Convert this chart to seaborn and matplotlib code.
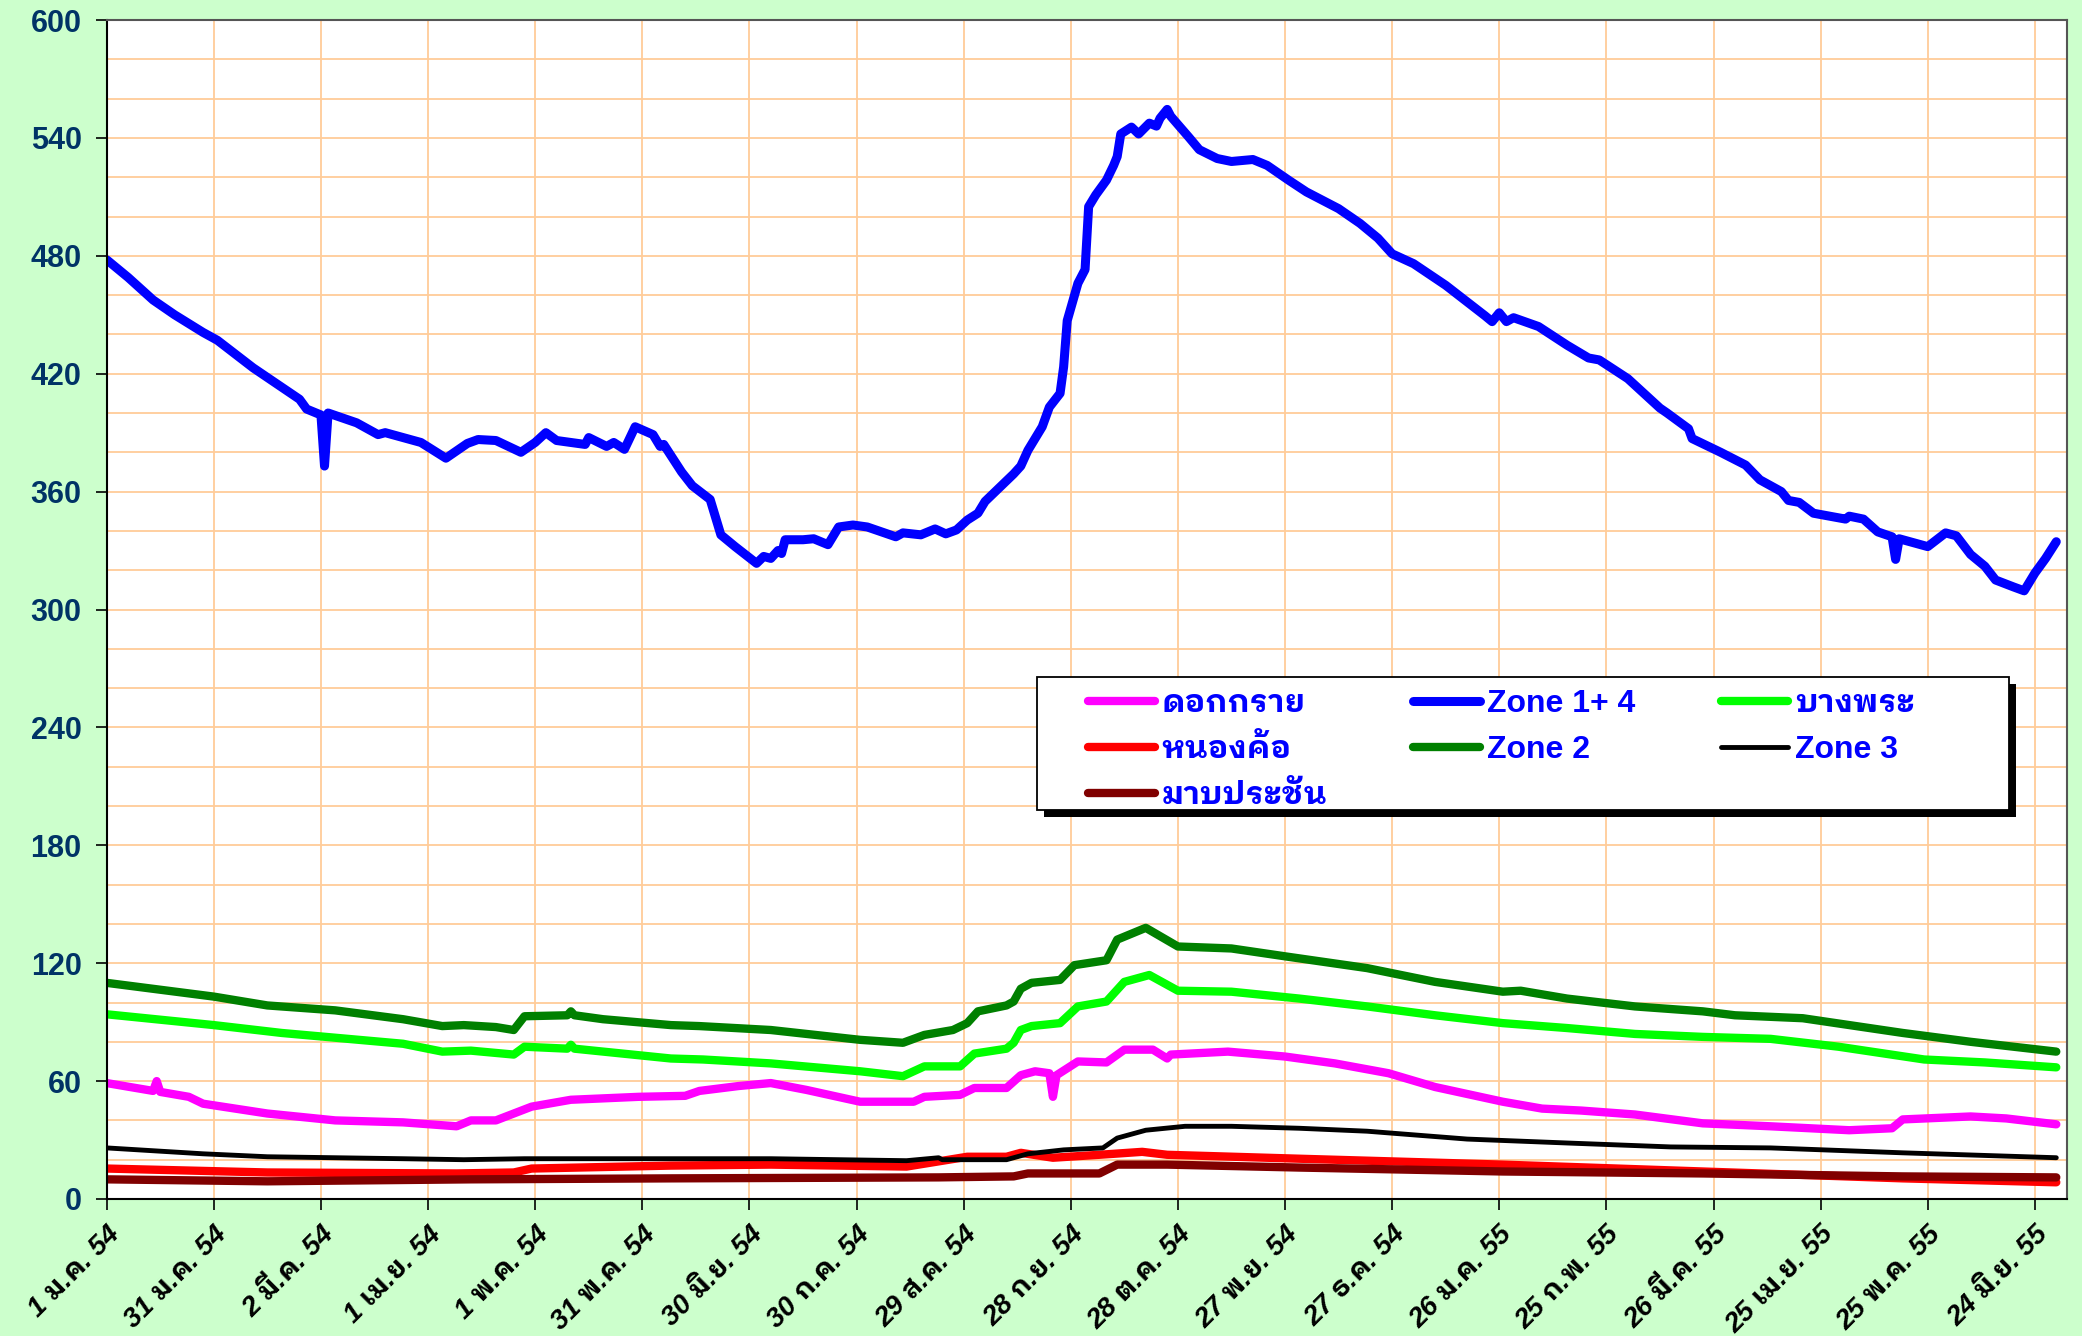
import matplotlib
matplotlib.use("Agg")
import matplotlib.pyplot as plt
import matplotlib.font_manager as fm
from matplotlib.ft2font import FT2Font
from matplotlib.patches import Rectangle
from matplotlib.ticker import MultipleLocator
import seaborn as sns
import pandas as pd

# ---- data (day offset from 1 Jan 2011) ----
start = pd.Timestamp("2011-01-01")

zone14_day = [0, 6, 13, 19, 27, 31, 41, 54, 56, 60, 61, 62, 70, 76, 78, 88, 95, 101, 104, 109,
              116, 120, 123, 126, 134, 135, 140, 142, 145, 148, 153, 155, 156, 161, 164, 169, 172,
              176, 182, 184, 186, 188, 189, 190, 195, 198, 202, 205, 209, 213, 221, 223, 228, 232,
              235, 238, 241, 244, 246, 250, 254, 256, 258, 262, 264, 267, 268, 269, 272, 274, 275,
              277, 280, 282, 283, 284, 287, 289, 292, 294, 295, 297, 298, 303, 306, 311, 315, 321,
              325, 331, 336, 345, 351, 356, 360, 366, 375, 386, 388, 390, 392, 394, 401, 409, 415,
              418, 426, 435, 437, 443, 444, 448, 452, 459, 463, 469, 471, 474, 478, 487, 488, 492,
              496, 500, 501, 502, 510, 515, 518, 522, 526, 529, 534, 537, 540, 543, 546]
zone14 = [478, 469, 457.5, 450, 441, 437, 423, 407, 402, 399, 373, 400, 395, 389, 390, 385, 377,
          384.5, 386.5, 386, 380, 385, 390, 386, 384, 387.5, 383, 385, 381.5, 393, 389, 383, 384,
          370, 363, 356, 338, 332, 323.5, 327, 326, 330, 328.5, 335.5, 335.5, 336, 333, 342, 343,
          342, 337, 339, 338, 341, 338.5, 340.5, 345.5, 349, 355, 362, 369, 373, 381, 393, 403,
          410, 423.5, 447, 466, 473, 505, 511, 518.5, 526, 530.5, 542, 545.5, 542, 547.5, 546,
          550, 554.5, 551, 540.5, 534, 529.5, 528, 529, 526, 518.5, 512.5, 504, 496.5, 489, 481,
          476, 465, 449.5, 446.5, 451, 446.5, 448.5, 444, 434.5, 428, 427, 417.5, 402.5, 400, 392,
          387, 383.5, 380, 373.5, 366, 360, 355.5, 354.5, 349, 346, 347.5, 346, 339.5, 337, 325.5,
          336, 332, 339, 337.5, 328, 322, 315, 311.5, 309.5, 318.5, 326, 334.5]

zone2_day = [0, 30, 45, 64, 83, 94, 100, 109, 114, 117, 129, 130, 131, 139, 158, 166, 181, 186,
             211, 223, 229, 237, 241, 244, 252, 254, 256, 259, 267, 271, 280, 283, 287, 291, 300,
             315, 330, 353, 372, 391, 396, 409, 428, 447, 456, 475, 503, 522, 546]
zone2 = [110, 103, 98.5, 96, 91.5, 88, 88.5, 87.5, 86, 93, 93.5, 95.5, 93.5, 91.5, 88.5, 88, 86.5,
         86, 81, 79.5, 83.5, 86, 89.5, 95.5, 98.5, 100.5, 107, 110, 111.5, 119, 121.5, 132, 135,
         138, 128.5, 127.5, 123.5, 117.5, 110.5, 105.5, 106, 102, 98, 95.5, 93.5, 92, 84.5, 80, 75]

bangphra_day = [0, 30, 49, 83, 94, 102, 114, 117, 129, 130, 131, 158, 167, 186, 211, 223, 229,
                239, 243, 252, 254, 256, 259, 267, 272, 280, 285, 292, 300, 315, 334, 353, 372,
                391, 409, 428, 447, 466, 485, 509, 526, 546]
bangphra = [94, 88.5, 84.5, 79, 75, 75.5, 73.5, 77.5, 76.5, 78.5, 76.5, 71.5, 71, 69, 65, 62.5,
            67.5, 67.5, 74, 76.5, 79.5, 86, 88, 89.5, 98, 100.5, 110.5, 114, 106, 105.5, 102, 98,
            93.5, 89.5, 87, 84, 82.5, 81.5, 77.5, 71, 69.5, 67]

dokkrai_day = [0, 13, 14, 15, 23, 27, 45, 64, 83, 98, 102, 109, 119, 130, 149, 162, 166, 177,
               186, 196, 211, 226, 229, 239, 243, 252, 256, 260, 264, 265, 266, 272, 280, 285,
               293, 297, 298, 314, 330, 344, 359, 372, 391, 402, 413, 428, 447, 466, 488, 500,
               503, 522, 532, 546]
dokkrai = [59, 55, 60, 54.5, 52, 48.5, 43.5, 40, 39, 37, 40, 40, 47, 50.5, 52, 52.5, 55, 57.5,
           59, 55.5, 49.5, 49.5, 52, 53, 56.5, 56.5, 63, 65, 64, 52, 63, 70, 69.5, 76, 76, 71.5,
           73.5, 75, 72.5, 69, 64, 57, 49.5, 46, 45, 43, 38.5, 37, 35, 36, 40.5, 42, 41, 38]

zone3_day = [0, 27, 45, 83, 100, 117, 158, 186, 224, 233, 234, 252, 258, 268, 279, 283, 291, 302,
             315, 334, 353, 381, 409, 438, 466, 503, 546]
zone3 = [26, 23, 21.5, 20.5, 20, 20.5, 20.5, 20.5, 19.5, 21, 20, 20, 23, 25, 26, 31, 35, 37, 37,
         36, 34.5, 30.5, 28.5, 26.5, 26, 23.5, 21]

nongkho_day = [0, 45, 98, 114, 119, 158, 186, 224, 241, 252, 256, 265, 278, 290, 297, 334, 391,
               447, 503, 546]
nongkho = [15.5, 13.5, 13, 13.5, 15.5, 17, 17.5, 16.5, 21.5, 21.5, 23.5, 21, 22.5, 24, 22.5, 20.5,
           17.5, 14, 10.5, 8.5]

mabprachan_day = [0, 45, 102, 158, 233, 254, 258, 278, 283, 297, 334, 391, 447, 503, 546]
mabprachan = [10, 9, 10, 10.5, 11, 11.5, 13, 13, 17.5, 17.5, 16, 14, 13, 11.5, 11]

tick_labels = ["1 ม.ค. 54", "31 ม.ค. 54", "2 มี.ค. 54", "1 เม.ย. 54", "1 พ.ค. 54", "31 พ.ค. 54",
               "30 มิ.ย. 54", "30 ก.ค. 54", "29 ส.ค. 54", "28 ก.ย. 54", "28 ต.ค. 54", "27 พ.ย. 54",
               "27 ธ.ค. 54", "26 ม.ค. 55", "25 ก.พ. 55", "26 มี.ค. 55", "25 เม.ย. 55", "25 พ.ค. 55",
               "24 มิ.ย. 55"]


# ---- fonts: Latin in Liberation Sans, Thai from a looped Thai face with a bold weight ----
def pick_thai_font():
    bold_ok = {}
    for f in fm.fontManager.ttflist:
        try:
            if FT2Font(f.fname).get_char_index(0x0E01):
                w = f.weight if isinstance(f.weight, int) else 400
                bold_ok[f.name] = bold_ok.get(f.name, False) or w >= 600
        except Exception:
            pass
    prefs = ["Tahoma", "Noto Sans Thai Looped", "IBM Plex Sans Thai Looped", "Loma",
             "Noto Sans Thai", "Sarabun", "IBM Plex Sans Thai", "Garuda"]
    for p in prefs:
        if bold_ok.get(p):
            return [p]
    for p in prefs:
        if p in bold_ok:
            return [p]
    return sorted(bold_ok)[:1]


fam = ["Liberation Sans"] + pick_thai_font() + ["DejaVu Sans"]

sns.set_style("white")
plt.rcParams["font.family"] = fam

fig = plt.figure(figsize=(20.82, 13.36), dpi=100, facecolor="#CCFFCC")
W, H = 2082.0, 1336.0
ax = fig.add_axes([106.7 / W, 1 - 1199 / H, (2067 - 106.7) / W, (1199 - 20) / H])
ax.set_facecolor("white")

series = [
    ("หนองค้อ", nongkho_day, nongkho, "#FF0000", 6),
    ("มาบประชัน", mabprachan_day, mabprachan, "#800000", 6),
    ("Zone 3", zone3_day, zone3, "#000000", 3.5),
    ("ดอกกราย", dokkrai_day, dokkrai, "#FF00FF", 6),
    ("บางพระ", bangphra_day, bangphra, "#00FF00", 6),
    ("Zone 2", zone2_day, zone2, "#008000", 6),
    ("Zone 1+ 4", zone14_day, zone14, "#0000FF", 6.5),
]
handles = {}
for name, days, vals, color, lw in series:
    df = pd.DataFrame({"date": start + pd.to_timedelta(days, unit="D"), "value": vals})
    sns.lineplot(data=df, x="date", y="value", ax=ax, color=color, linewidth=lw,
                 sort=False, label=name, solid_capstyle="round", solid_joinstyle="round")
    handles[name] = ax.lines[-1]
ax.get_legend().remove()

ax.set_xlim(start, start + pd.Timedelta(days=549))
ax.set_ylim(0, 600)
ax.yaxis.set_major_locator(MultipleLocator(60))
ax.yaxis.set_minor_locator(MultipleLocator(20))
tick_dates = pd.date_range(start, periods=len(tick_labels), freq="30D")
ax.set_xticks(tick_dates)
ax.set_xticklabels(tick_labels, rotation=45, ha="right", rotation_mode="anchor",
                   fontsize=20, fontweight="bold", fontstyle="italic", color="black")
for lab in ax.get_yticklabels():
    lab.set_fontsize(22)
    lab.set_fontweight("bold")
    lab.set_color("#003366")
ax.tick_params(axis="both", which="major", direction="out", length=8, width=1.2,
               color="black", left=True, bottom=True)
ax.tick_params(axis="y", which="minor", left=False)
ax.tick_params(axis="x", pad=8)
ax.tick_params(axis="y", pad=10)
ax.grid(True, which="major", axis="both", color="#FFCC99", linewidth=1.3)
ax.grid(True, which="minor", axis="y", color="#FFCC99", linewidth=1.3)
ax.set_axisbelow(True)
ax.set_xlabel("")
ax.set_ylabel("")
for side in ["left", "bottom"]:
    ax.spines[side].set_color("black")
    ax.spines[side].set_linewidth(1.5)
for side in ["top", "right"]:
    ax.spines[side].set_color("#555555")
    ax.spines[side].set_linewidth(1.5)

# legend box with a hard black shadow, drawn as figure patches
box_l, box_t, box_r, box_b = 1037, 677, 2009, 810
fig.add_artist(Rectangle(((box_l + 7) / W, 1 - (box_b + 7) / H), (box_r - box_l) / W,
                         (box_b - box_t) / H, transform=fig.transFigure,
                         facecolor="black", edgecolor="none", zorder=3))
fig.add_artist(Rectangle((box_l / W, 1 - box_b / H), (box_r - box_l) / W,
                         (box_b - box_t) / H, transform=fig.transFigure,
                         facecolor="white", edgecolor="black", linewidth=1.3, zorder=3.5))

# legend filled row by row like the original: ncol=3 fills columns, so reorder
order = ["ดอกกราย", "หนองค้อ", "มาบประชัน", "Zone 1+ 4", "Zone 2", "บางพระ", "Zone 3"]
leg = fig.legend([handles[n] for n in order], order, ncol=3, loc="upper left",
                 bbox_to_anchor=(1088 / W, 1 - 689 / H), bbox_transform=fig.transFigure,
                 borderaxespad=0, borderpad=0, frameon=False,
                 prop={"family": fam, "weight": "bold", "size": 23},
                 labelcolor="#0000FF", handlelength=2.1, handletextpad=0.2,
                 columnspacing=2.7, labelspacing=0.5)
leg.set_zorder(5)

fig.savefig("out.png", dpi=100, facecolor=fig.get_facecolor())
